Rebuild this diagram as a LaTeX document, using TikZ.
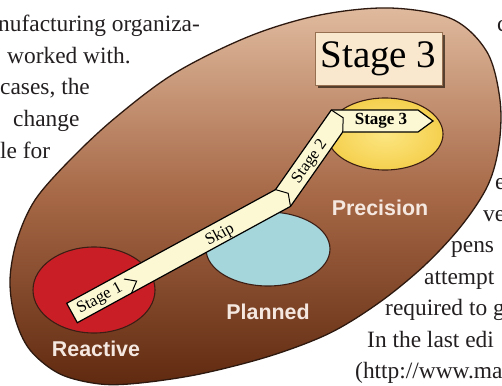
\documentclass[tikz,border=0pt]{standalone}
\usepackage{fontspec}
\setmainfont{Liberation Serif}
\newfontfamily\labelfont{Liberation Sans}
\usetikzlibrary{shapes.geometric,shadows}
\definecolor{inkgray}{RGB}{35,31,32}
\definecolor{blobtop}{RGB}{224,186,158}
\definecolor{blobmid}{RGB}{166,104,70}
\definecolor{blobbottom}{RGB}{96,42,16}
\definecolor{blobline}{RGB}{45,25,15}
\definecolor{zoneline}{RGB}{60,30,20}
\definecolor{reactred}{RGB}{202,30,38}
\definecolor{plancyan}{RGB}{164,214,220}
\definecolor{precyellow}{RGB}{245,208,78}
\definecolor{precyellowlight}{RGB}{252,230,130}
\definecolor{labelwhite}{RGB}{245,232,225}
\definecolor{ribboncream}{RGB}{252,248,212}
\definecolor{boxfill}{RGB}{250,232,206}
\definecolor{boxline}{RGB}{150,110,80}

\begin{document}
\begin{tikzpicture}[x=1pt,y=-1pt,
    pagetext/.style={anchor=base west,inner sep=0pt,text=inkgray,font=\fontsize{23.4}{28}\selectfont},
    zone/.style={ellipse,draw=zoneline,line width=1.1pt,inner sep=0pt},
    zonelabel/.style={text=labelwhite,font=\labelfont\bfseries\fontsize{21.4}{24}\selectfont},
    bandtext/.style={inner sep=0pt,font=\fontsize{16.5}{18}\selectfont},
    chevron/.style={line width=1pt,line join=miter}]
    \useasboundingbox (0,0) rectangle (502,385);
    \clip (0,0) rectangle (502,385);
    \node[pagetext] (left1) at (-2,32) {nufacturing organiza-};
    \node[pagetext] (left2) at (7,63.5) {worked with.};
    \node[pagetext] (left3) at (0,95) {cases, the};
    \node[pagetext] (left4) at (13,126.5) {change};
    \node[pagetext] (left5) at (0,158) {le for};
    \node[pagetext] (right1) at (497,32) {c};
    \node[pagetext] (right6) at (495,189.5) {e};
    \node[pagetext] (right7) at (483,221) {ve};
    \node[pagetext] (right8) at (451,252.5) {pens};
    \node[pagetext] (right9) at (424,284) {attempt};
    \node[pagetext] (right10) at (385,315.5) {required to g};
    \node[pagetext] (right11) at (367,347) {In the last edi};
    \node[pagetext] (right12) at (355,378.5) {(http://www.man};
    \draw[line width=1.3pt,draw=blobline,top color=blobtop,bottom color=blobbottom,middle color=blobmid]
        plot[smooth cycle,tension=0.55] coordinates {(390,8) (452,19) (487,52) (500,100) (499,145) (488,185) (462,225) (425,265) (380,302) (330,333) (270,356) (200,374) (140,383) (100,384) (60,374) (30,350) (15,318) (10,280) (17,240) (35,200) (70,160) (115,118) (175,73) (250,36) (320,15)};
    \node[zone,fill=reactred,minimum width=122pt,minimum height=86pt] (reactive) at (94,290) {};
    \node[zone,fill=plancyan,minimum width=124pt,minimum height=74pt] (planned) at (268,249) {};
    \node[zone,inner color=precyellowlight,outer color=precyellow,minimum width=116pt,minimum height=72pt] (precision) at (385,134) {};
    \draw[line width=1.2pt,fill=ribboncream,line join=miter] (66.7,303.3) -- (275.5,189.6) -- (331.3,110) -- (418,110) -- (433,121) -- (418,132) -- (342.7,132) -- (290.5,206.4) -- (77.3,322.7) -- cycle;
    \draw[chevron] (124,279) -- (136.6,281.1) -- (131.6,292.9);
    \draw[chevron] (275.5,189.6) -- (288.2,193.3) -- (290.5,206.4);
    \draw[chevron] (331.3,110) -- (343.2,117.8) -- (342.7,132);
    \node[bandtext,rotate=28.6] (stageone) at (100,299) {Stage 1};
    \node[bandtext,rotate=28.6] (skip) at (220,235) {Skip};
    \node[bandtext,rotate=55] (stagetwo) at (310,162) {Stage 2};
    \node[bandtext,font=\bfseries\fontsize{17}{18}\selectfont] (stagethree) at (381,121) {Stage 3};
    \node[draw=boxline,fill=boxfill,line width=0.6pt,minimum width=127pt,minimum height=53pt,inner sep=0pt,
        drop shadow={shadow xshift=3pt,shadow yshift=-3pt,opacity=0.7,fill=black!80!brown}] (stagebox) at (378.5,58.5) {\fontsize{39}{40}\selectfont Stage 3};
    \node[zonelabel] (reactivetext) at (96,349) {Reactive};
    \node[zonelabel] (plannedtext) at (268,312) {Planned};
    \node[zonelabel] (precisiontext) at (380,208) {Precision};
\end{tikzpicture}
\end{document}
